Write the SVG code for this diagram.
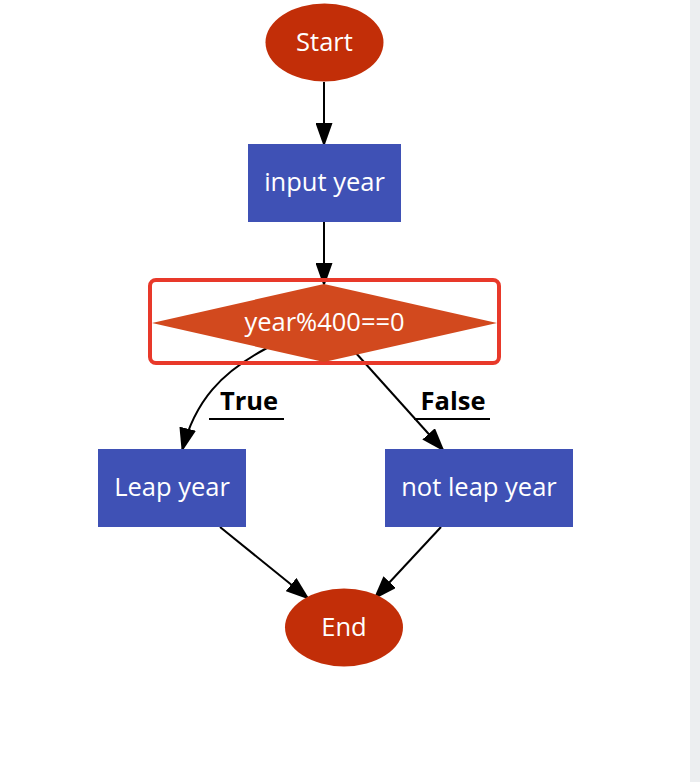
<svg xmlns="http://www.w3.org/2000/svg" width="700" height="782" viewBox="0 0 700 782">
<style>
.term{fill:#c22e08}
.proc{fill:#3f51b5}
.dec{fill:#d2491e}
.lbl{font-family:"Open Sans","Noto Sans",sans-serif;font-size:25.5px;fill:#fff;text-anchor:middle;dominant-baseline:central}
.edge{fill:none;stroke:#000;stroke-width:2;marker-end:url(#ah)}
.el{font-family:"Open Sans","Noto Sans",sans-serif;font-size:25.5px;font-weight:bold;fill:#000;text-anchor:middle}
.ul{stroke:#000;stroke-width:2}
</style>
<defs>
<marker id="ah" markerWidth="24" markerHeight="17" refX="23" refY="8.5" orient="auto" markerUnits="userSpaceOnUse">
<path d="M0,0 L24,8.5 L0,17 Z" fill="#000"/>
</marker>
</defs>
<rect x="0" y="0" width="700" height="782" fill="#fff"/>
<rect x="690" y="0" width="10" height="782" fill="#eceef0"/>
<g id="edges">
<path class="edge" d="M324,82 L324,146"/>
<path class="edge" d="M324,222 L324,286"/>
<path class="edge" d="M267,348 C222,372 195,400 182,451"/>
<path class="edge" d="M355,352 L444,451"/>
<path class="edge" d="M220,527 L309,599"/>
<path class="edge" d="M441,527 L374,599"/>
<line class="ul" x1="209" y1="419" x2="284" y2="419"/>
<text class="el" x="249" y="410">True</text>
<line class="ul" x1="414" y1="419" x2="490" y2="419"/>
<text class="el" x="453" y="410">False</text>
</g>
<g id="start">
<ellipse class="term" cx="324.5" cy="42.5" rx="59" ry="39"/>
<text class="lbl" x="324.5" y="41">Start</text>
</g>
<g id="input">
<rect class="proc" x="248" y="144" width="153" height="78"/>
<text class="lbl" x="324.5" y="181">input year</text>
</g>
<g id="decision">
<rect x="150" y="280" width="349" height="83" rx="6" fill="none" stroke="#e8392a" stroke-width="4"/>
<polygon class="dec" points="324,284 497,323 324,362 152,323"/>
<text class="lbl" x="324.5" y="321">year%400==0</text>
</g>
<g id="leap">
<rect class="proc" x="98" y="449" width="148" height="78"/>
<text class="lbl" x="172" y="486">Leap year</text>
</g>
<g id="notleap">
<rect class="proc" x="385" y="449" width="188" height="78"/>
<text class="lbl" x="479" y="486">not leap year</text>
</g>
<g id="end">
<ellipse class="term" cx="344" cy="627.5" rx="59" ry="39"/>
<text class="lbl" x="344" y="626">End</text>
</g>
</svg>
